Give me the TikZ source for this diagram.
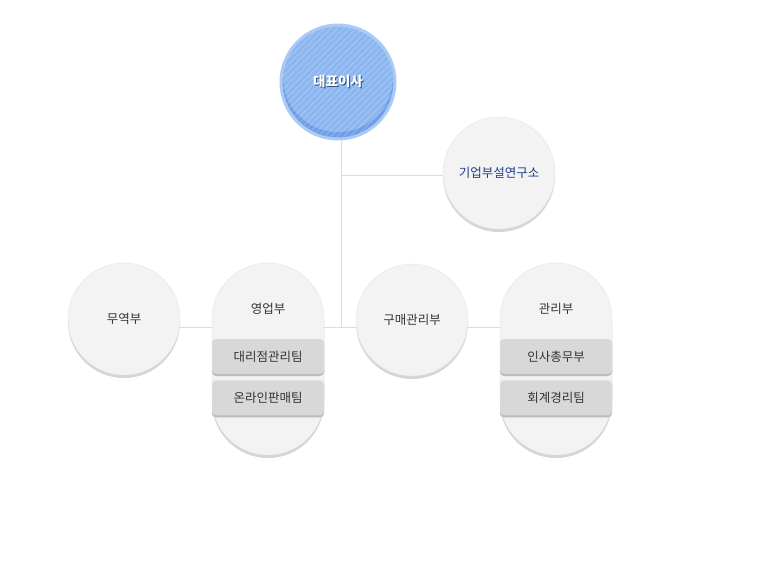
\documentclass[tikz,border=0pt]{standalone}
\usepackage{fontspec}
\setmainfont{Noto Sans CJK KR}
\usetikzlibrary{positioning,shadows,patterns.meta,backgrounds}
\definecolor{linegray}{HTML}{DCDCDC}
\definecolor{bubblefill}{HTML}{F3F3F3}
\definecolor{bubbleedge}{HTML}{E6E6E6}
\definecolor{bubbleshade}{HTML}{D5D5D5}
\definecolor{teamfill}{HTML}{D8D8D8}
\definecolor{teamshade}{HTML}{BBBBBB}
\definecolor{txt}{HTML}{333333}
\definecolor{labtxt}{HTML}{1E3C8C}
\definecolor{ceoring}{HTML}{ABCBF6}
\definecolor{ceofill}{HTML}{8CB6EF}
\definecolor{ceodark}{HTML}{6D9EE6}
\definecolor{ceoshadow}{HTML}{34507A}

\begin{document}
\begin{tikzpicture}[x=1pt,y=-1pt,
  font=\fontsize{12.5}{14}\selectfont, text=txt,
  conn/.style={draw=linegray, line width=1pt},
  bubble/.style={circle, fill=bubblefill, draw=bubbleedge, line width=0.5pt,
    minimum size=112pt, inner sep=0pt,
    drop shadow={shadow xshift=0pt, shadow yshift=-3pt, fill=bubbleshade, opacity=1}},
  pill/.style={rectangle, rounded corners=56pt, fill=bubblefill, draw=bubbleedge,
    line width=0.5pt, minimum width=112pt, minimum height=192pt, inner sep=0pt,
    drop shadow={shadow xshift=0pt, shadow yshift=-3pt, fill=bubbleshade, opacity=1}},
  team/.style={rectangle, rounded corners=4pt, fill=teamfill, minimum width=112pt,
    minimum height=35pt, inner sep=0pt,
    drop shadow={shadow xshift=0pt, shadow yshift=-2pt, fill=teamshade, opacity=1}},
]
\useasboundingbox (0,0) rectangle (761,582);

% top
\node[circle, minimum size=114pt, inner sep=0pt, draw=ceoring, line width=3pt,
  font=\fontsize{13.5}{15}\selectfont\bfseries,
  path picture={
    \fill[ceodark] (path picture bounding box.south west) rectangle (path picture bounding box.north east);
    \fill[ceofill] ([yshift=5pt]path picture bounding box.center) circle (55pt);
    \fill[pattern={Lines[angle=45,distance=4.5pt,line width=1.2pt]}, pattern color=white, opacity=0.18]
      (path picture bounding box.south west) rectangle (path picture bounding box.north east);
  }] (ceo) at (338,82)
  {\rlap{\kern1pt\raisebox{-1pt}{\color{ceoshadow}대표이사}}\color{white}대표이사};

\node[bubble, text=labtxt] (lab) at (499,173) {기업부설연구소};

% departments
\node[bubble] (trade) at (124,319) {무역부};
\node[pill] (sales) at (268,359) {};
\node (salesname) at ([yshift=-46pt]sales.north) {영업부};
\node[team] (agency) at (268,356.5) {대리점관리팀};
\node[team, below=6pt of agency] (online) {온라인판매팀};
\node[bubble] (buy) at (412,320) {구매관리부};
\node[pill] (mgmt) at (556,359) {};
\node (mgmtname) at ([yshift=-46pt]mgmt.north) {관리부};
\node[team] (general) at (556,356.5) {인사총무부};
\node[team, below=6pt of general] (account) {회계경리팀};

% connectors
\coordinate (hub) at (341,327);
\coordinate (labjoin) at (341,175);
\begin{scope}[on background layer]
\draw[conn] (ceo.south -| hub) -- (hub);
\draw[conn] (labjoin) -- (labjoin -| lab.west);
\draw[conn] (trade.east |- hub) -- (mgmt.west |- hub);
\end{scope}
\end{tikzpicture}
\end{document}
